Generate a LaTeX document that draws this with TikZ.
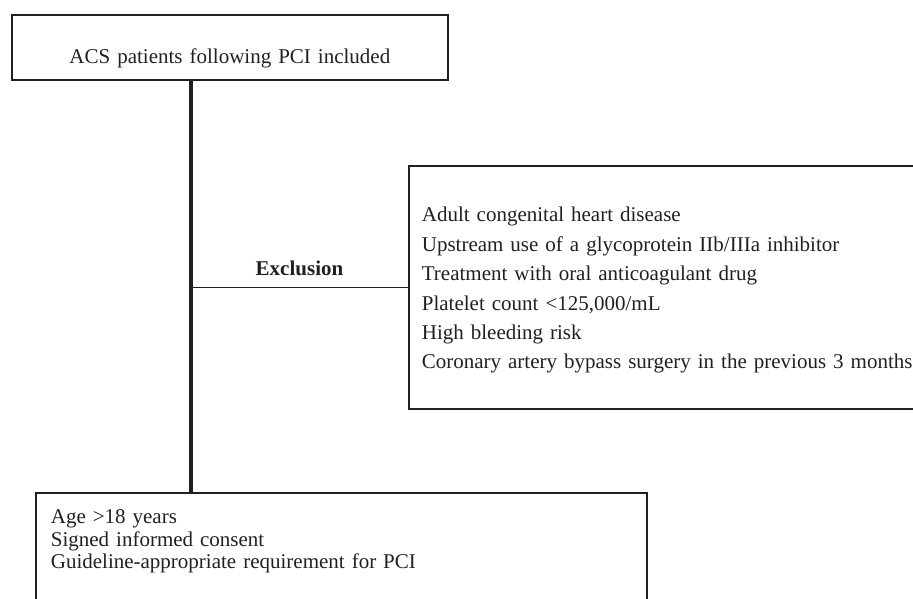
\documentclass[tikz,border=0pt]{standalone}
\usepackage{fontspec}
\setmainfont{Liberation Serif}
\definecolor{ink}{HTML}{231F20}
\newcommand{\boxfont}[1]{\fontsize{21}{#1}\selectfont\spaceskip=0.17em\relax}

\begin{document}
\begin{tikzpicture}[x=1pt, y=-1pt,
  font=\boxfont{22.5},
  every node/.style={text=ink},
  box/.style={draw=ink, line width=1.7pt, anchor=north west, inner xsep=0pt, inner ysep=0pt},
  trunk/.style={draw=ink, line width=3.2pt},
  branch/.style={draw=ink, line width=1.7pt}]
\useasboundingbox (0,0) rectangle (913,598);
\clip (0,0) rectangle (913,598);

% boxes
\node[box, text width=436pt, align=center, text height=48.5pt, text depth=16.5pt] (incl) at (11,14) {ACS patients following PCI included};

\node[box, text width=520pt, inner xsep=13pt, align=left, text height=56pt, text depth=187pt, font=\boxfont{29.4}] (excl) at (408,165) {Adult congenital heart disease\\
Upstream use of a glycoprotein IIb/IIIa inhibitor\\
Treatment with oral anticoagulant drug\\
Platelet count <125,000/mL\\
High bleeding risk\\
Coronary artery bypass surgery in the previous 3 months};

\node[box, text width=581pt, inner xsep=15pt, align=left, text height=31pt, text depth=110pt] (crit) at (35,492) {Age >18 years\\
Signed informed consent\\
Guideline-appropriate requirement for PCI};

% connectors
\coordinate (spine) at (191,0);
\draw[trunk] (incl.south -| spine) -- (crit.north -| spine);
\draw[branch] (excl.west -| spine) -- node[above=7pt, font=\boxfont{22.5}\bfseries] (exlab) {Exclusion} (excl.west);

\end{tikzpicture}
\end{document}
